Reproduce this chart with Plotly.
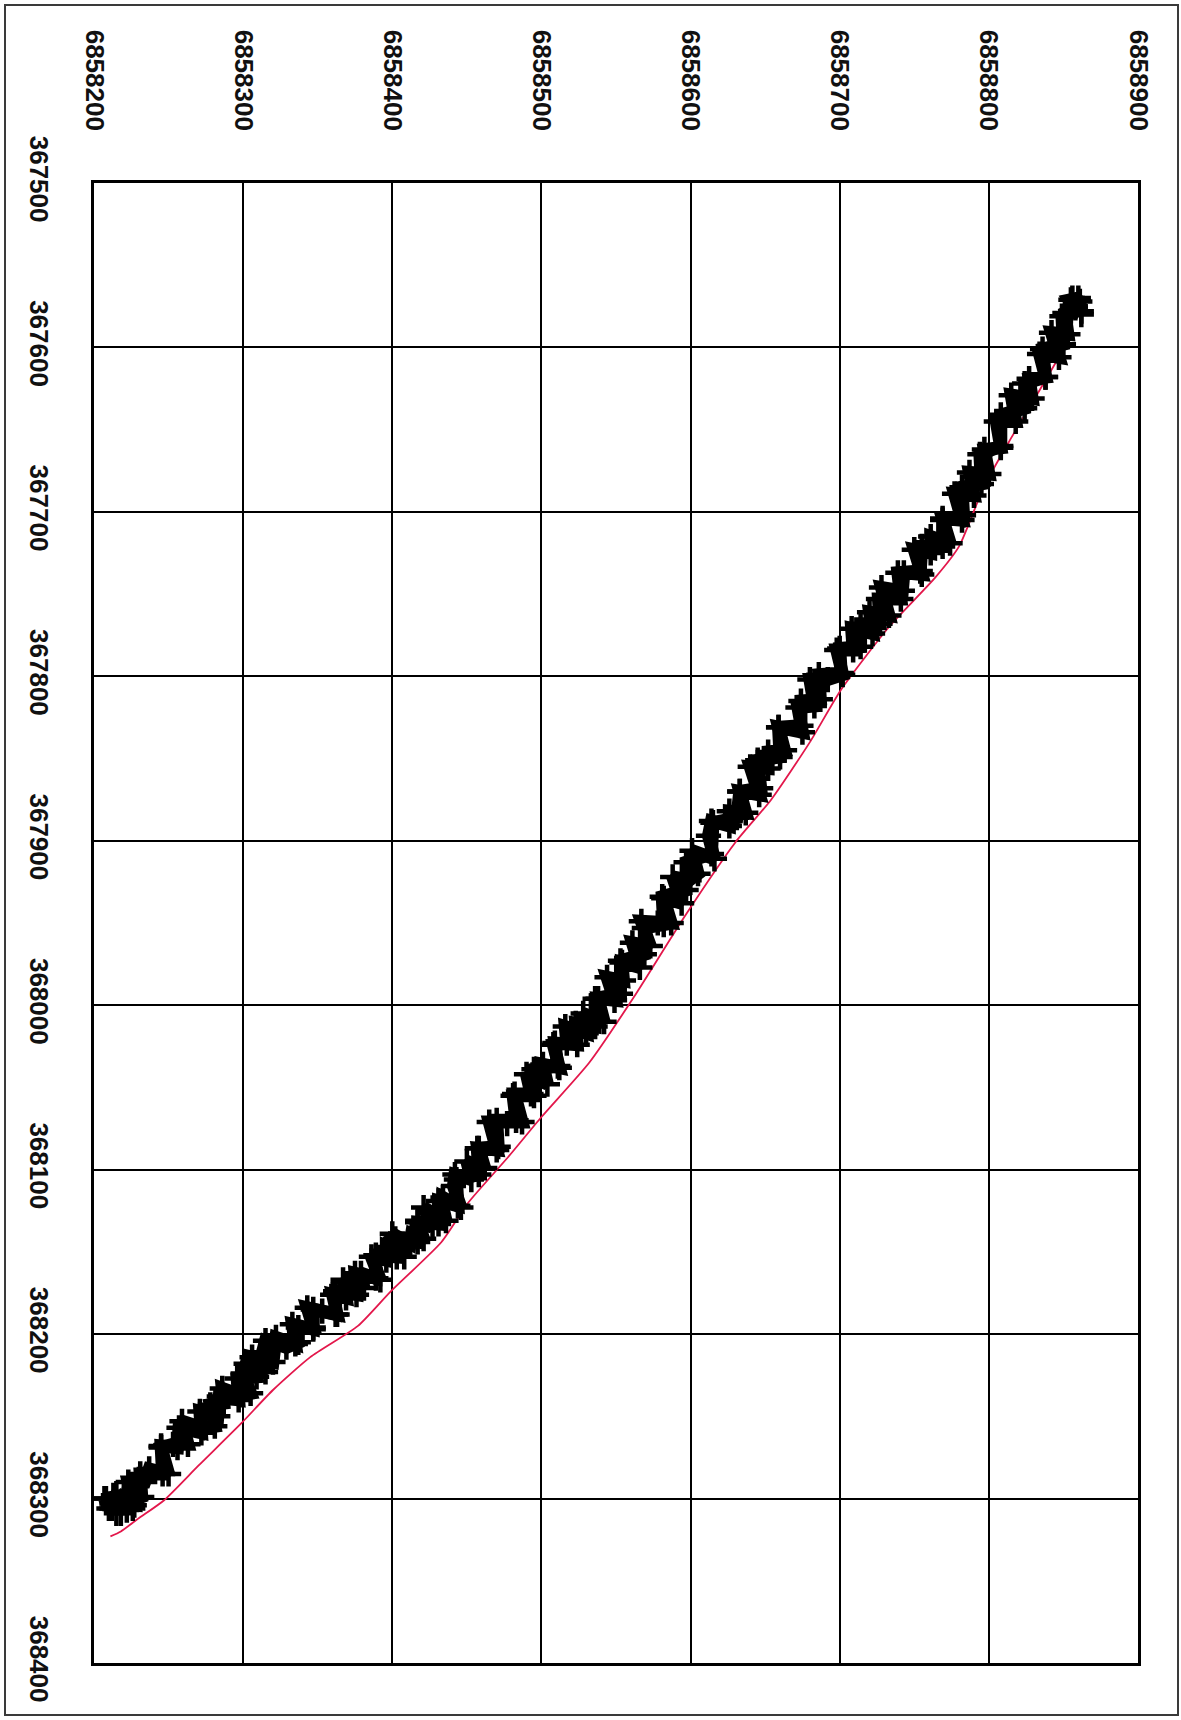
import plotly.graph_objects as go

# Tick values / labels
x_ticks = [6858200, 6858300, 6858400, 6858500, 6858600, 6858700, 6858800, 6858900]
y_ticks = [367500, 367600, 367700, 367800, 367900, 368000, 368100, 368200, 368300, 368400]

# Black "+" survey points, pass 1
pass1_x = [
    6858208, 6858212, 6858215, 6858218, 6858220, 6858226, 6858224, 6858223,
    6858232, 6858231, 6858246, 6858245,
    6858256, 6858257, 6858272, 6858271, 6858283,
    6858284, 6858297, 6858296, 6858309,
    6858306, 6858320, 6858322, 6858335, 6858333,
    6858347, 6858347, 6858362, 6858362,
    6858376, 6858375, 6858389, 6858389,
    6858403, 6858402, 6858417,
    6858417, 6858431, 6858431,
    6858444, 6858443, 6858458,
    6858457, 6858471, 6858470, 6858483, 6858481,
    6858495, 6858495,
    6858511, 6858509, 6858524, 6858523,
    6858536, 6858536,
    6858553, 6858553,
    6858569, 6858569, 6858582,
    6858581, 6858597,
    6858597, 6858614,
    6858615, 6858631,
    6858633, 6858647, 6858645, 6858660,
    6858659, 6858674, 6858674, 6858687, 6858686,
    6858701, 6858700, 6858714, 6858714,
    6858727, 6858726, 6858741, 6858739,
    6858754, 6858755, 6858769,
    6858769, 6858783, 6858782,
    6858795, 6858794,
    6858808, 6858808,
    6858824, 6858824,
    6858838, 6858836,
    6858850, 6858849,
    6858858, 6858862, 6858855, 6858860,
]
pass1_y = [
    368300, 368306, 368297, 368309, 368301, 368306, 368296, 368302,
    368299, 368285, 368285, 368268,
    368269, 368257, 368260, 368247, 368250,
    368238, 368240, 368227, 368226,
    368214, 368217, 368202, 368206, 368194,
    368197, 368185, 368188, 368174,
    368176, 368163, 368166, 368152,
    368153, 368142, 368144,
    368132, 368133, 368119,
    368122, 368106, 368103,
    368087, 368086, 368070, 368070, 368055,
    368055, 368039,
    368037, 368023, 368024, 368011,
    368013, 367996,
    367993, 367973,
    367969, 367953, 367951,
    367934, 367930,
    367913, 367908,
    367889, 367886,
    367870, 367868, 367851, 367849,
    367831, 367830, 367815, 367814, 367799,
    367798, 367783, 367782, 367768,
    367768, 367753, 367753, 367737,
    367736, 367721, 367721,
    367705, 367702, 367685,
    367683, 367665,
    367660, 367641,
    367637, 367622,
    367618, 367601,
    367598, 367581,
    367575, 367578, 367571, 367570,
]

# Black "+" survey points, pass 2
pass2_x = [
    6858207, 6858210, 6858213, 6858215, 6858218, 6858220, 6858222, 6858225, 6858227, 6858212,
    6858227, 6858223, 6858234, 6858237, 6858250, 6858245,
    6858253, 6858263, 6858259, 6858273, 6858281, 6858278,
    6858287, 6858286, 6858298, 6858305, 6858300, 6858302,
    6858315, 6858313, 6858315, 6858329, 6858337, 6858337,
    6858347, 6858343, 6858353, 6858363, 6858360, 6858369,
    6858367, 6858381, 6858379, 6858392, 6858386, 6858396,
    6858396, 6858408, 6858400, 6858412, 6858413, 6858421,
    6858417, 6858427, 6858421, 6858436, 6858434, 6858434,
    6858446, 6858441, 6858442, 6858453, 6858450, 6858462,
    6858458, 6858470, 6858465, 6858477, 6858487, 6858482,
    6858493, 6858490, 6858504, 6858501,
    6858512, 6858508, 6858517, 6858516, 6858530,
    6858528, 6858542, 6858538, 6858549,
    6858544, 6858555, 6858554, 6858566,
    6858561, 6858573, 6858567, 6858578, 6858587,
    6858582, 6858594, 6858588, 6858599,
    6858605, 6858601, 6858616, 6858612,
    6858614, 6858626, 6858626, 6858637,
    6858633, 6858646, 6858640, 6858652, 6858652, 6858663,
    6858659, 6858675, 6858672, 6858683, 6858680, 6858692,
    6858702, 6858698, 6858709, 6858708, 6858722,
    6858720, 6858733, 6858728, 6858742, 6858743,
    6858755, 6858750, 6858761, 6858761, 6858774,
    6858769, 6858782, 6858777, 6858790,
    6858787, 6858800, 6858797,
    6858808, 6858805, 6858818,
    6858815, 6858829, 6858827,
    6858838, 6858834, 6858847,
    6858842, 6858853, 6858851,
    6858858, 6858862, 6858856, 6858861, 6858855,
]
pass2_y = [
    368300, 368306, 368298, 368309, 368302, 368296, 368307, 368301, 368295, 368303,
    368304, 368290, 368290, 368282, 368285, 368269,
    368267, 368267, 368253, 368257, 368256, 368243,
    368242, 368233, 368237, 368236, 368224, 368218,
    368223, 368211, 368204, 368208, 368205, 368196,
    368196, 368184, 368186, 368188, 368176, 368178,
    368167, 368172, 368163, 368167, 368153, 368155,
    368147, 368153, 368139, 368145, 368139, 368142,
    368131, 368135, 368123, 368131, 368123, 368117,
    368123, 368110, 368103, 368106, 368095, 368099,
    368087, 368088, 368071, 368072, 368071, 368054,
    368054, 368042, 368048, 368036,
    368038, 368024, 368023, 368013, 368017,
    368005, 368010, 367996, 367997,
    367983, 367985, 367974, 367977,
    367962, 367964, 367949, 367950, 367950,
    367935, 367938, 367922, 367924,
    367920, 367906, 367911, 367897,
    367888, 367891, 367882, 367883,
    367870, 367872, 367855, 367856, 367846, 367845,
    367831, 367834, 367819, 367818, 367802, 367802,
    367799, 367784, 367784, 367771, 367774,
    367761, 367763, 367746, 367748, 367737,
    367738, 367723, 367725, 367715, 367719,
    367704, 367705, 367689, 367690,
    367676, 367677, 367662,
    367661, 367645, 367645,
    367629, 367631, 367619,
    367618, 367604, 367606,
    367591, 367592, 367579,
    367576, 367580, 367570, 367572, 367578,
]

# Red reference line
red_x = [6858211, 6858218, 6858230, 6858247, 6858270, 6858299, 6858320, 6858345,
         6858377, 6858399, 6858433, 6858451, 6858478, 6858500, 6858532, 6858562,
         6858596, 6858630, 6858654, 6858680, 6858701, 6858733, 6858764, 6858780,
         6858797, 6858815, 6858834, 6858854]
red_y = [368323, 368320, 368312, 368301, 368280, 368254, 368234, 368214,
         368195, 368174, 368144, 368120, 368092, 368068, 368035, 367995,
         367946, 367901, 367875, 367840, 367808, 367770, 367740, 367721,
         367684, 367655, 367626, 367595]

fig = go.Figure()
fig.add_trace(go.Scatter(
    x=red_x, y=red_y, mode="lines",
    line=dict(color="#e3174b", width=1.8, shape="spline", smoothing=0.6),
    hoverinfo="skip", showlegend=False))

cross = dict(symbol="cross-thin", size=18, color="black",
             line=dict(color="black", width=4.5))
for px_, py_ in ((pass1_x, pass1_y), (pass2_x, pass2_y)):
    fig.add_trace(go.Scatter(
        x=px_, y=py_, mode="lines+markers",
        line=dict(color="black", width=13),
        marker=cross, showlegend=False))

font = dict(family="Liberation Sans, Arial, sans-serif", size=26, color="#111111",
            weight="bold")

fig.update_xaxes(
    range=[6858200, 6858900], side="top", tickmode="array",
    tickvals=x_ticks, ticktext=[str(v) for v in x_ticks],
    tickangle=90, tickfont=font, ticklabelstandoff=40,
    showgrid=True, gridcolor="black", gridwidth=1.5,
    showline=True, mirror=True, linecolor="black", linewidth=3,
    zeroline=False, ticks="")
fig.update_yaxes(
    range=[368400, 367500], tickmode="array",
    tickvals=y_ticks, ticktext=[str(v) for v in y_ticks],
    tickangle=90, tickfont=font, ticklabelstandoff=30,
    showgrid=True, gridcolor="black", gridwidth=1.5,
    showline=True, mirror=True, linecolor="black", linewidth=3,
    zeroline=False, ticks="")

W, H = 1181, 1720
L, R, T, B = 94, 43, 183, 57
pw, ph = W - L - R, H - T - B
fx = lambda px: (px - L) / pw
fy = lambda py: 1 - (py - T) / ph
fig.add_shape(type="rect", xref="paper", yref="paper",
              x0=fx(5), x1=fx(1178), y0=fy(5), y1=fy(1715),
              line=dict(color="#3a3a3a", width=2), layer="below")

fig.update_layout(
    width=W, height=H, margin=dict(l=L, r=R, t=T, b=B),
    paper_bgcolor="white", plot_bgcolor="white", showlegend=False)

fig.write_html("out.html", config={"displayModeBar": False},
               post_script="document.body.style.margin='0';")
